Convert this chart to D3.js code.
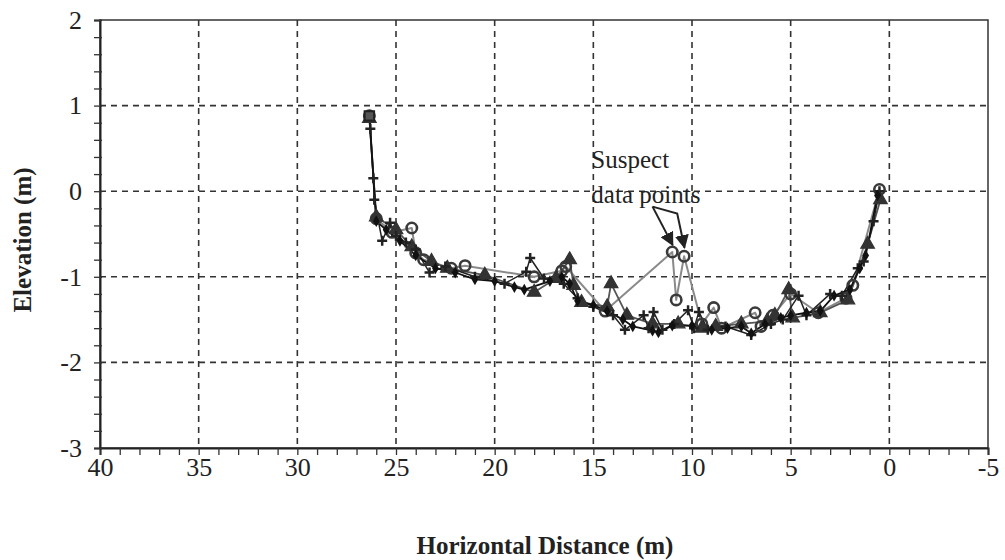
<!DOCTYPE html>
<html><head><meta charset="utf-8">
<script src="https://cdn.jsdelivr.net/npm/d3@7"></script>
<style>body{margin:0;background:#fff}svg text{font-family:"Liberation Serif","Times New Roman",serif;fill:#222}</style>
</head><body>
<svg id="c" width="1005" height="560"></svg>
<script>
const xTicks = [40,35,30,25,20,15,10,5,0,-5];
const yTicks = [2,1,0,-1,-2,-3];
const xLabel = "Horizontal Distance (m)";
const yLabel = "Elevation (m)";
const noteLines = ["Suspect","data points"];

// series: [distance, elevation]
const circles = [[26.35,0.88],[26.0,-0.32],[25.2,-0.48],[24.2,-0.43],[24.0,-0.72],[23.6,-0.80],[22.2,-0.90],[21.5,-0.87],[18.0,-1.00],[16.6,-0.93],[16.4,-0.88],[14.4,-1.40],[11.0,-0.71],[10.8,-1.27],[10.4,-0.76],[9.5,-1.55],[8.9,-1.36],[8.5,-1.60],[6.8,-1.42],[6.5,-1.58],[5.9,-1.45],[5.0,-1.20],[3.6,-1.42],[2.2,-1.25],[1.85,-1.10],[0.5,0.02]];
const triangles = [[26.35,0.85],[26.0,-0.30],[25.0,-0.45],[24.2,-0.65],[23.2,-0.82],[22.4,-0.90],[20.5,-0.98],[18.0,-1.18],[16.9,-1.02],[16.2,-0.80],[16.0,-1.10],[15.6,-1.30],[14.3,-1.35],[14.1,-1.08],[13.3,-1.45],[12.0,-1.55],[10.7,-1.55],[9.5,-1.60],[8.8,-1.58],[7.5,-1.55],[6.2,-1.52],[5.8,-1.45],[5.1,-1.15],[4.9,-1.48],[3.5,-1.42],[2.1,-1.27],[1.1,-0.62],[0.45,-0.10]];
const pluses = [[26.35,0.88],[26.3,0.73],[26.15,0.15],[26.1,-0.10],[25.7,-0.58],[25.3,-0.37],[25.0,-0.52],[24.5,-0.60],[24.0,-0.68],[23.3,-0.95],[22.5,-0.88],[21.0,-1.00],[19.5,-1.08],[18.4,-0.94],[18.2,-0.78],[17.5,-1.02],[16.5,-1.08],[15.8,-1.25],[15.0,-1.35],[14.0,-1.45],[13.4,-1.62],[12.45,-1.45],[12.2,-1.60],[11.95,-1.41],[11.5,-1.62],[10.9,-1.55],[10.2,-1.39],[9.9,-1.60],[9.65,-1.41],[9.2,-1.62],[8.3,-1.58],[7.0,-1.68],[6.0,-1.55],[5.4,-1.50],[4.6,-1.22],[4.2,-1.45],[3.0,-1.20],[2.4,-1.22],[1.6,-0.90],[1.3,-0.82],[0.8,-0.35],[0.5,0.0]];
const diamonds = [[26.35,0.88],[26.0,-0.35],[25.5,-0.45],[24.8,-0.58],[24.0,-0.75],[23.0,-0.90],[22.0,-0.95],[21.0,-1.03],[20.0,-1.05],[19.0,-1.12],[18.5,-1.15],[17.2,-1.05],[16.6,-1.00],[16.2,-1.08],[15.8,-1.28],[15.0,-1.33],[14.3,-1.40],[13.5,-1.50],[13.0,-1.58],[12.0,-1.63],[11.7,-1.65],[11.0,-1.57],[10.0,-1.57],[9.0,-1.62],[8.2,-1.60],[7.5,-1.58],[7.0,-1.66],[6.3,-1.55],[5.5,-1.48],[5.0,-1.45],[4.2,-1.42],[3.5,-1.40],[2.8,-1.22],[2.0,-1.15],[1.5,-0.90],[1.2,-0.75],[0.6,-0.05]];

const noteText = [15.1, 0.27];      // data coords of text anchor
const arrow1 = [[12.0,-0.18],[10.98,-0.63]];
const arrow2 = [[12.0,-0.18],[10.75,-0.26],[10.38,-0.66]];

const svg = d3.select("#c");
const L=100,R=988,T=20,B=448;
const x = d3.scaleLinear().domain([40,-5]).range([L,R]);
const y = d3.scaleLinear().domain([-3,2]).range([B,T]);
const fmt = d => String(d);

// grid
const g = svg.append("g");
g.selectAll(".vg").data(xTicks.slice(1,-1)).join("line")
 .attr("x1",d=>x(d)).attr("x2",d=>x(d)).attr("y1",T).attr("y2",B)
 .attr("stroke","#333").attr("stroke-width",1.6).attr("stroke-dasharray","6,5");
g.selectAll(".hg").data(yTicks.slice(1,-1)).join("line")
 .attr("y1",d=>y(d)).attr("y2",d=>y(d)).attr("x1",L).attr("x2",R)
 .attr("stroke","#333").attr("stroke-width",1.6).attr("stroke-dasharray","6,5");

// frame
svg.append("rect").attr("x",L).attr("y",T).attr("width",R-L).attr("height",B-T)
 .attr("fill","none").attr("stroke","#333").attr("stroke-width",1.5);

// axes
const xAxis = d3.axisBottom(x).tickValues(d3.range(40,-5.5,-1)).tickSize(7).tickFormat("");
const xa = svg.append("g").attr("transform",`translate(0,${B})`).call(xAxis);
xa.select(".domain").attr("stroke","#222").attr("stroke-width",2);
xa.selectAll(".tick line").attr("stroke","#333").attr("stroke-width",1.3);
const xl = svg.append("g").attr("transform",`translate(0,${B})`)
 .call(d3.axisBottom(x).tickValues(xTicks).tickFormat(fmt).tickSize(0).tickPadding(10));
xl.select(".domain").remove();
xl.selectAll("text").style("font-size","26px").style("font-family","Liberation Serif").attr("fill","#222");

const yAxis = d3.axisLeft(y).tickValues(d3.range(-3,2.01,0.2)).tickSize(6).tickFormat("");
const ya = svg.append("g").attr("transform",`translate(${L},0)`).call(yAxis);
ya.select(".domain").attr("stroke","#222").attr("stroke-width",2);
ya.selectAll(".tick line").attr("stroke","#333").attr("stroke-width",1.3).attr("x2",-6).attr("x1",2);
const yl = svg.append("g").attr("transform",`translate(${L},0)`)
 .call(d3.axisLeft(y).tickValues(yTicks).tickFormat(fmt).tickSize(0).tickPadding(18));
yl.select(".domain").remove();
yl.selectAll("text").style("font-size","26px").style("font-family","Liberation Serif").attr("fill","#222");

svg.append("text").attr("x",545).attr("y",554).attr("text-anchor","middle")
 .style("font-size","25px").style("font-weight","bold").text(xLabel);
svg.append("text").attr("transform",`translate(31,${(T+B)/2+6}) rotate(-90)`).attr("text-anchor","middle")
 .style("font-size","25px").style("font-weight","bold").text(yLabel);

// series lines
const line = d3.line().x(d=>x(d[0])).y(d=>y(d[1]));
const series = [
 {data:circles, stroke:"#8a8a8a", w:2, mark:"circle"},
 {data:triangles, stroke:"#555", w:1.8, mark:"triangle"},
 {data:pluses, stroke:"#222", w:1.5, mark:"plus"},
 {data:diamonds, stroke:"#111", w:1.8, mark:"diamond"}
];
series.forEach(s=>{
 svg.append("path").datum(s.data).attr("d",line).attr("fill","none")
  .attr("stroke",s.stroke).attr("stroke-width",s.w).attr("stroke-linejoin","round");
});
series.forEach(s=>{
 const sel = svg.append("g").selectAll("path").data(s.data).join("path")
  .attr("transform",d=>`translate(${x(d[0])},${y(d[1])})`);
 if(s.mark==="circle"){
  sel.attr("d",d3.symbol(d3.symbolCircle,85)()).attr("fill","none").attr("stroke","#3a3a3a").attr("stroke-width",2.6);
 } else if(s.mark==="triangle"){
  sel.attr("d",d3.symbol(d3.symbolTriangle,80)()).attr("fill","#333").attr("stroke","#333").attr("stroke-width",1.2);
 } else if(s.mark==="plus"){
  sel.attr("d","M-5,0H5M0,-5V5").attr("fill","none").attr("stroke","#222").attr("stroke-width",2.5);
 } else {
  sel.attr("d",d3.symbol(d3.symbolDiamond,40)()).attr("fill","#111");
 }
});
// start square marker
svg.append("path").attr("transform",`translate(${x(circles[0][0])},${y(circles[0][1])})`)
 .attr("d",d3.symbol(d3.symbolSquare,90)()).attr("fill","#555").attr("stroke","#222").attr("stroke-width",2);

// annotation
const nt = svg.append("text").attr("x",x(noteText[0])).attr("y",y(noteText[1]))
 .style("font-size","25px");
noteLines.forEach((t,i)=>nt.append("tspan").attr("x",x(noteText[0])).attr("dy",i?35:0).text(t));
svg.append("defs").append("marker").attr("id","ah").attr("viewBox","0 0 10 10").attr("refX",9).attr("refY",5)
 .attr("markerWidth",7).attr("markerHeight",7).attr("orient","auto")
 .append("path").attr("d","M0,0L10,5L0,10z").attr("fill","#222");
[arrow1,arrow2].forEach(a=>{
 svg.append("path").datum(a).attr("d",line).attr("fill","none").attr("stroke","#222")
  .attr("stroke-width",2).attr("marker-end","url(#ah)");
});
</script>
</body></html>
